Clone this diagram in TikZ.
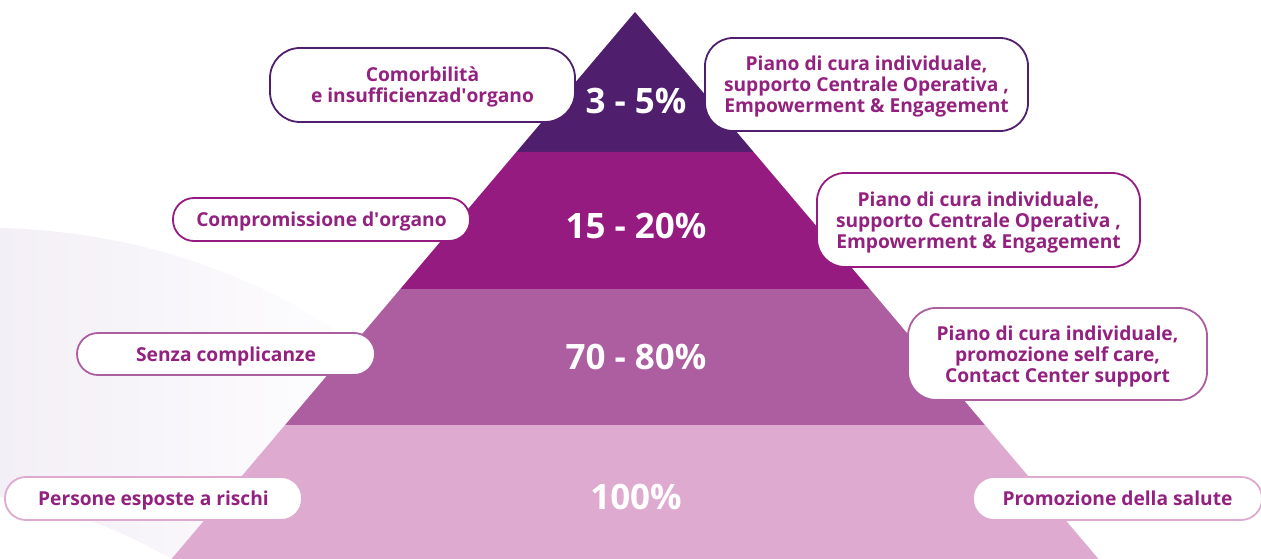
\documentclass[tikz,border=0pt]{standalone}
\usepackage{fontspec}
\setmainfont{Open Sans}
\definecolor{bandA}{HTML}{4F1E6D}
\definecolor{bandB}{HTML}{951B80}
\definecolor{bandC}{HTML}{AD5EA0}
\definecolor{bandD}{HTML}{DEAACF}
\definecolor{txt}{HTML}{93217F}
\definecolor{swoosh}{HTML}{F3EFF6}
\tikzset{
  lbl/.style={draw, line width=1.8pt, fill=white, rounded corners=#1, align=center,
    text=txt, font=\fontsize{19.2}{21}\selectfont\bfseries, inner sep=0pt, text depth=0pt},
  pct/.style={text=white, font=\fontsize{35}{40}\selectfont\bfseries}
}
\begin{document}
\begin{tikzpicture}[x=1pt,y=-1pt]
\useasboundingbox (0,0) rectangle (1261,559);
% background swoosh
\shade[left color=swoosh, right color=white, shading angle=90]
  (0,228) .. controls (160,232) and (300,290) .. (400,380)
  -- (400,559) -- (172,559) .. controls (120,530) and (60,505) .. (0,497) -- cycle;
% pyramid bands
\fill[bandA] (635,12) -- (753.6,152) -- (516.4,152) -- cycle;
\fill[bandB] (516.4,152) -- (753.6,152) -- (869.7,289) -- (400.3,289) -- cycle;
\fill[bandC] (400.3,289) -- (869.7,289) -- (984.9,425) -- (285.1,425) -- cycle;
\fill[bandD] (285.1,425) -- (984.9,425) -- (1098.5,559) -- (171.5,559) -- cycle;
% percentages
\node[pct] (p1) at (636,101) {3 - 5\%};
\node[pct] (p2) at (636,226) {15 - 20\%};
\node[pct] (p3) at (636,357) {70 - 80\%};
\node[pct] (p4) at (636,497) {100\%};
% left labels
\node[lbl=30pt, draw=bandA, minimum width=305pt, minimum height=74pt] (l1) at (422.5,85)
  {Comorbilità\\e insufficienzad\textquotesingle organo};
\node[lbl=21pt, draw=bandB, minimum width=297pt, minimum height=43pt] (l2) at (321.5,219.5)
  {Compromissione d\textquotesingle organo};
\node[lbl=21pt, draw=bandC, minimum width=298pt, minimum height=42pt] (l3) at (226,354)
  {Senza complicanze};
\node[lbl=21pt, draw=bandD, minimum width=297pt, minimum height=43pt] (l4) at (153.5,498.5)
  {Persone esposte a rischi};
% right labels
\node[lbl=28pt, draw=bandA, minimum width=323pt, minimum height=93pt] (r1) at (866.5,84.5)
  {Piano di cura individuale,\\supporto Centrale Operativa ,\\Empowerment \& Engagement};
\node[lbl=28pt, draw=bandB, minimum width=323pt, minimum height=94pt] (r2) at (978.5,220)
  {Piano di cura individuale,\\supporto Centrale Operativa ,\\Empowerment \& Engagement};
\node[lbl=28pt, draw=bandC, minimum width=299pt, minimum height=92pt] (r3) at (1057.5,354)
  {Piano di cura individuale,\\promozione self care,\\Contact Center support};
\node[lbl=21pt, draw=bandD, minimum width=289pt, minimum height=43pt] (r4) at (1117.5,498.5)
  {Promozione della salute};
\end{tikzpicture}
\end{document}
